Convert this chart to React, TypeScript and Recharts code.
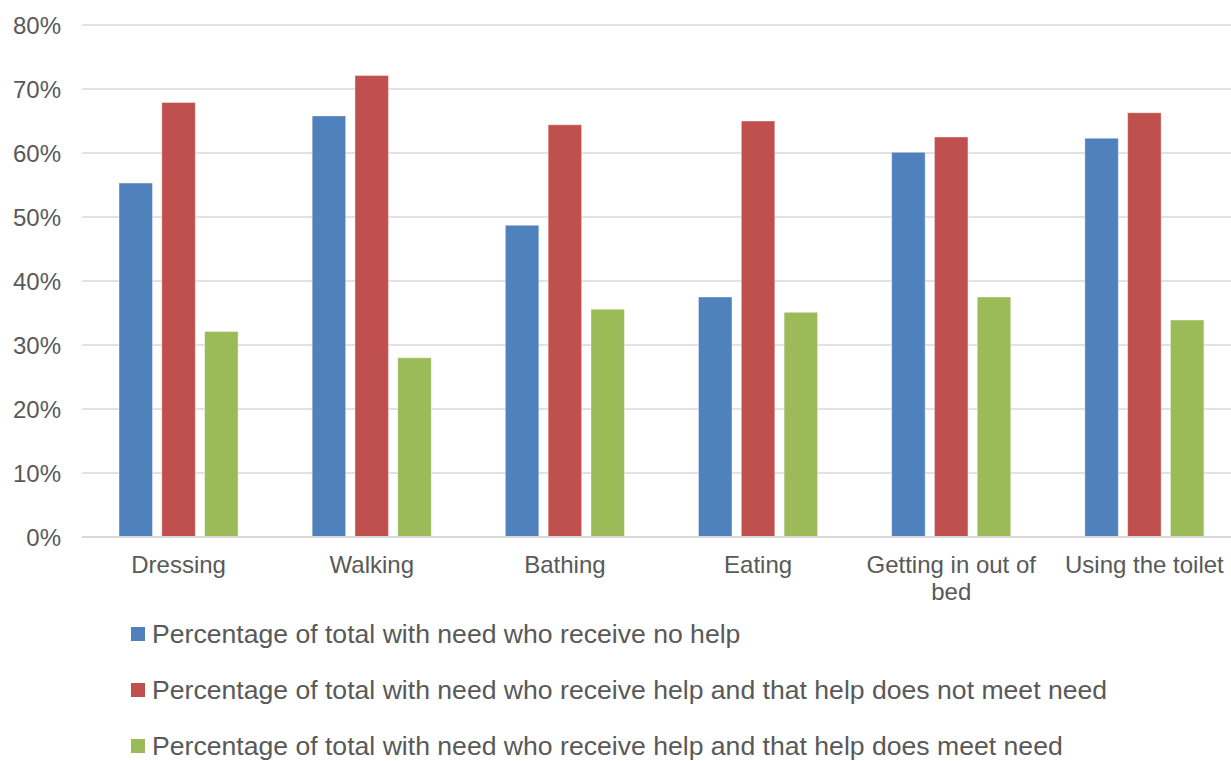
import React from 'react';
import { BarChart, Bar, XAxis, YAxis, CartesianGrid } from 'recharts';

const categories = ['Dressing', 'Walking', 'Bathing', 'Eating', 'Getting in out of bed', 'Using the toilet'];
const noHelp = [55.3, 65.8, 48.7, 37.5, 60.1, 62.3];
const helpNotMeet = [67.9, 72.1, 64.4, 65.0, 62.5, 66.3];
const helpMeets = [32.1, 28.0, 35.6, 35.1, 37.5, 33.9];
const yTicks = [0, 10, 20, 30, 40, 50, 60, 70, 80];

const seriesNames = [
    'Percentage of total with need who receive no help',
    'Percentage of total with need who receive help and that help does not meet need',
    'Percentage of total with need who receive help and that help does meet need',
];
const seriesColors = ['#4F81BD', '#C0504D', '#9BBB59'];

const chartData = categories.map((name, i) => ({
    name,
    noHelp: noHelp[i],
    helpNotMeet: helpNotMeet[i],
    helpMeets: helpMeets[i],
}));

const FONT = '"Liberation Sans", Arial, sans-serif';
const TEXT = '#595959';

// greedy word wrap using canvas text metrics
let ctx: CanvasRenderingContext2D | null = null;
function wrapLabel(label: string, maxWidth: number, font: string) {
    if (!ctx) ctx = document.createElement('canvas').getContext('2d');
    if (!ctx) return [label];
    ctx.font = font;
    const words = label.split(' ');
    const lines: string[] = [];
    let cur = '';
    words.forEach((w) => {
        const test = cur ? `${cur} ${w}` : w;
        if (cur && ctx!.measureText(test).width > maxWidth) {
            lines.push(cur);
            cur = w;
        } else {
            cur = test;
        }
    });
    if (cur) lines.push(cur);
    return lines;
}

function CategoryTick(props: any) {
    const { x, y, payload } = props;
    const lines = wrapLabel(String(payload.value), 185, `24px ${FONT}`);
    return (
        <text x={x} y={y + 36} textAnchor="middle" fill={TEXT} style={{ fontFamily: FONT, fontSize: 24 }}>
            {lines.map((l, i) => (
                <tspan key={i} x={x} dy={i === 0 ? 0 : 27}>{l}</tspan>
            ))}
        </text>
    );
}

export default function App() {
    return (
        <div style={{ position: 'fixed', left: 0, top: 0, width: 1231, height: 761, overflow: 'hidden', background: '#fff' }}>
            <BarChart
                width={1241}
                height={620}
                data={chartData}
                margin={{ top: 25, right: 0, left: 0, bottom: 0 }}
                barCategoryGap="19%"
                barGap={9.3}
                barSize={33.5}
            >
                <CartesianGrid vertical={false} stroke="#D9D9D9" strokeWidth={1.5} />
                <XAxis
                    dataKey="name"
                    axisLine={{ stroke: '#D9D9D9', strokeWidth: 2 }}
                    tickLine={false}
                    tickSize={0}
                    tickMargin={0}
                    height={83}
                    interval={0}
                    tick={<CategoryTick />}
                />
                <YAxis
                    domain={[0, 80]}
                    ticks={yTicks}
                    tickFormatter={(v: number) => `${v}%`}
                    axisLine={false}
                    tickLine={false}
                    tickSize={0}
                    tickMargin={21}
                    width={82}
                    tick={{ fill: TEXT, fontSize: 24, fontFamily: FONT }}
                />
                <Bar dataKey="noHelp" fill={seriesColors[0]} stroke="#fff" strokeOpacity={0.4} isAnimationActive={false} />
                <Bar dataKey="helpNotMeet" fill={seriesColors[1]} stroke="#fff" strokeOpacity={0.4} isAnimationActive={false} />
                <Bar dataKey="helpMeets" fill={seriesColors[2]} stroke="#fff" strokeOpacity={0.4} isAnimationActive={false} />
            </BarChart>
            <div style={{ position: 'absolute', left: 131, top: 606, fontFamily: FONT, fontSize: 26.6, color: TEXT }}>
                {seriesNames.map((name, i) => (
                    <div key={name} style={{ display: 'flex', alignItems: 'center', height: 56 }}>
                        <span style={{ display: 'inline-block', width: 14, height: 14, background: seriesColors[i], marginRight: 7 }} />
                        <span>{name}</span>
                    </div>
                ))}
            </div>
        </div>
    );
}
